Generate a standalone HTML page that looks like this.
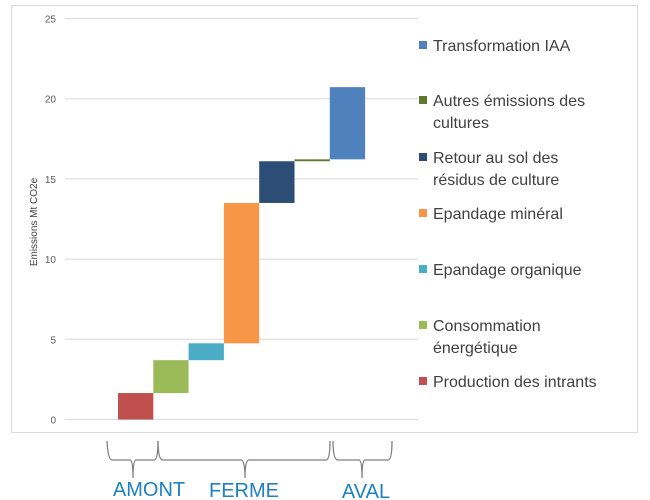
<!DOCTYPE html>
<html><head><meta charset="utf-8"><style>
body{margin:0;background:#fff;font-family:"Liberation Sans","DejaVu Sans",sans-serif}
svg{display:block}
</style></head><body>
<svg id="chart" width="650" height="500">
<rect x="11.5" y="5.5" width="626" height="427" fill="#fff" stroke="#d9d9d9"/>
<g id="grid"></g><g id="bars"></g><g id="legend"></g>
<text transform="translate(37,222) rotate(-90)" text-anchor="middle" font-size="10" fill="#404040">Emissions Mt CO2e</text>
<g fill="none" stroke="#7f7f7f" stroke-width="1.3">
<path d="M107,441 Q108,460 112,460 L130,460 Q133,460 133,478 Q133,460 136,460 L154,460 Q158,460 158,441"/>
<path d="M158,441 Q158,460 163,460 L241,460 Q245,460 245,478 Q245,460 249,460 L326,460 Q330,460 330,441"/>
<path d="M333,441 Q333,460 338,460 L359,460 Q362,460 362,478 Q362,460 365,460 L388,460 Q392,460 392,441"/>
</g>
<text x="149" y="496" text-anchor="middle" font-size="20" fill="#1f80c4">AMONT</text>
<text x="244" y="497" text-anchor="middle" font-size="20" fill="#1f80c4">FERME</text>
<text x="366" y="498" text-anchor="middle" font-size="20" fill="#1f80c4">AVAL</text>
</svg>
<script>
const categories=["Production des intrants","Consommation énergétique","Epandage organique","Epandage minéral","Retour au sol des résidus de culture","Autres émissions des cultures","Transformation IAA"];
const values=[1.65,2.05,1.05,8.75,2.6,0.12,4.5];
const colors=["#c0504d","#9bbb59","#4bacc6","#f79646","#2c4d75","#5e7a2f","#4f81bd"];
const ticks=[0,5,10,15,20,25];
const NS="http://www.w3.org/2000/svg";
const y0=419.5,ppu=16.04,x0=118,bw=35.3;
const Y=v=>y0-v*ppu;
function mk(t,a,p){const e=document.createElementNS(NS,t);for(const k in a)e.setAttribute(k,a[k]);p.appendChild(e);return e;}
const grid=document.getElementById('grid');
ticks.forEach(t=>{
 const l=mk('line',{x1:65,x2:418,y1:Y(t),y2:Y(t),stroke:'#d9d9d9'},grid);
 
 
 const tx=mk('text',{x:56,y:Y(t)+4,'text-anchor':'end','font-size':10,fill:'#595959'},grid);
 tx.textContent=t;
 
 
});
const bars=document.getElementById('bars');
let cum=0;
values.forEach((v,i)=>{
 const r=mk('rect',{x:x0+i*bw,y:Y(cum+v),width:bw,height:Math.max(v*ppu,1.5),fill:colors[i]},bars);
 
 
 cum+=v;
});
const leg=document.getElementById('legend');
const legY=[45,100,157,213,269,325,381];
for(let j=0;j<7;j++){
 const i=6-j;
 const g=mk('g',{},leg);
 
 
 mk('rect',{x:419,y:legY[j]-4,width:8,height:8,fill:colors[i]},g);
 const words=categories[i];
 let lines=[words];
 if(i==5)lines=["Autres émissions des","cultures"];
 if(i==4)lines=["Retour au sol des","résidus de culture"];
 if(i==1)lines=["Consommation","énergétique"];
 lines.forEach((s,k)=>{const t=mk('text',{x:433,y:legY[j]+6+k*22,'font-size':16,fill:'#404040'},g);t.textContent=s;});
}
</script>
</body></html>
